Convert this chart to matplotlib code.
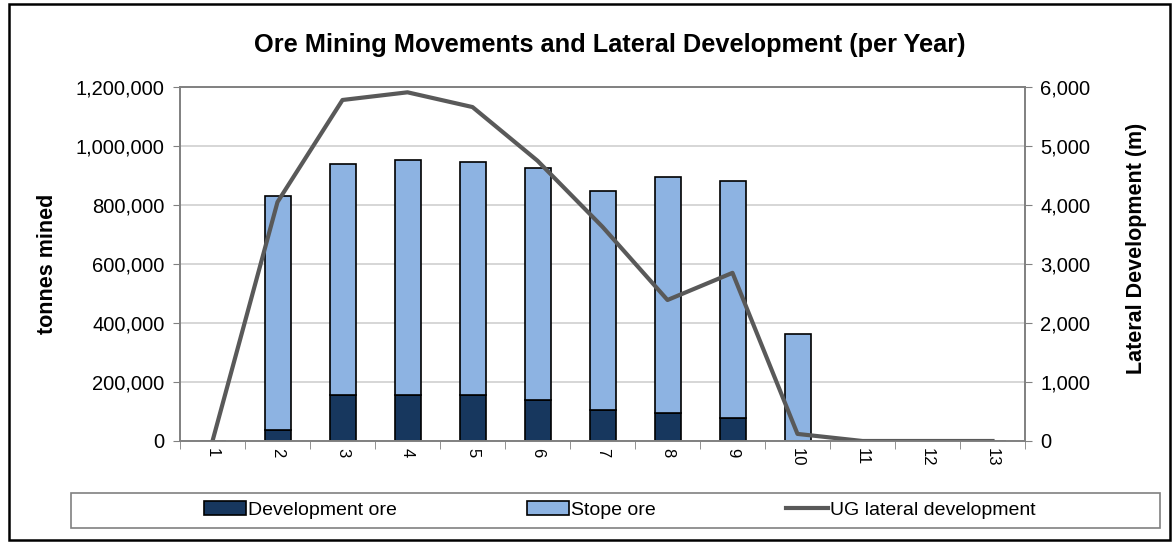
import numpy as np
import matplotlib
matplotlib.use('Agg')
import matplotlib.pyplot as plt
from matplotlib.ticker import FuncFormatter, FixedLocator
from matplotlib.patches import Rectangle

plt.rcParams['font.family'] = ['Liberation Sans', 'DejaVu Sans']

# 데이터
years = ['1', '2', '3', '4', '5', '6', '7', '8', '9', '10', '11', '12', '13']
dev_ore = [0, 36000, 155000, 155000, 155000, 139000, 105000, 94000, 77000, 0, 0, 0, 0]
total_ore = [0, 830000, 939000, 953000, 945000, 926000, 848000, 896000, 882000, 362000, 0, 0, 0]
stope_ore = [t - d for t, d in zip(total_ore, dev_ore)]
ug_lateral = [0, 4050, 5780, 5910, 5660, 4750, 3630, 2390, 2850, 120, 0, 0, 0]

x = np.arange(len(years))
W, H = 1173, 544

fig = plt.figure(figsize=(W / 100, H / 100), dpi=100)
# 바깥 테두리
fig.patches.append(Rectangle((9 / W, 4 / H), 1161 / W, 536 / H, transform=fig.transFigure,
                             fill=False, edgecolor='black', linewidth=1.8))
# 범례 테두리
fig.patches.append(Rectangle((71 / W, 1 - 528 / H), 1089 / W, 35 / H, transform=fig.transFigure,
                             fill=False, edgecolor='#808080', linewidth=1.2))

ax = fig.add_axes([180 / W, 1 - 441 / H, 845 / W, 354 / H])
ax2 = ax.twinx()

ax.bar(x, dev_ore, width=0.4, color='#17375E', edgecolor='black', linewidth=1.2,
       label='Development ore', zorder=2)
ax.bar(x, stope_ore, width=0.4, bottom=dev_ore, color='#8DB3E2', edgecolor='black',
       linewidth=1.2, label='Stope ore', zorder=2)
ax2.plot(x, ug_lateral, color='#595959', linewidth=3, label='UG lateral development')

ax.set_xlim(-0.5, len(years) - 0.5)
ax.set_ylim(0, 1200000)
ax2.set_ylim(0, 6000)
ax.set_yticks(np.arange(0, 1200001, 200000))
ax2.set_yticks(np.arange(0, 6001, 1000))
ax.yaxis.set_major_formatter(FuncFormatter(lambda v, p: f'{int(v):,}'))
ax2.yaxis.set_major_formatter(FuncFormatter(lambda v, p: f'{int(v):,}'))
ax.grid(axis='y', color='#D0D0D0', linewidth=1.2, zorder=0)
ax.set_axisbelow(True)

ax.set_xticks(x)
ax.set_xticklabels(years, rotation=-90, fontsize=12)
ax.tick_params(axis='x', length=0, pad=5)
ax.xaxis.set_minor_locator(FixedLocator(np.arange(-0.5, len(years), 1.0)))
ax.tick_params(axis='x', which='minor', length=6, color='#808080')
ax.tick_params(axis='y', labelsize=14.5, length=5, color='#808080', pad=6)
ax2.tick_params(axis='y', labelsize=14.5, length=5, color='#808080', pad=6)

for a in (ax, ax2):
    for s in a.spines.values():
        s.set_color('#808080')
        s.set_linewidth(1.2)

ax.set_ylabel('tonnes mined', fontsize=15.5, fontweight='bold')
ax.yaxis.set_label_coords(-0.144, 0.5)
ax2.set_ylabel('Lateral Development (m)', fontsize=15.5, fontweight='bold')
ax2.yaxis.set_label_coords(1.1195, 0.545)
fig.text(610 / W, 1 - 45 / H, 'Ore Mining Movements and Lateral Development (per Year)',
         ha='center', va='center', fontsize=18.3, fontweight='bold')

h1, l1 = ax.get_legend_handles_labels()
h2, l2 = ax2.get_legend_handles_labels()
fig.legend(h1 + h2, l1 + l2, loc='center', ncol=3, fontsize=14,
           bbox_to_anchor=(620 / W, 1 - 510 / H), frameon=False,
           handlelength=2.15, handleheight=0.75, handletextpad=0.12, columnspacing=6.7)

fig.savefig('out.png', dpi=100)
